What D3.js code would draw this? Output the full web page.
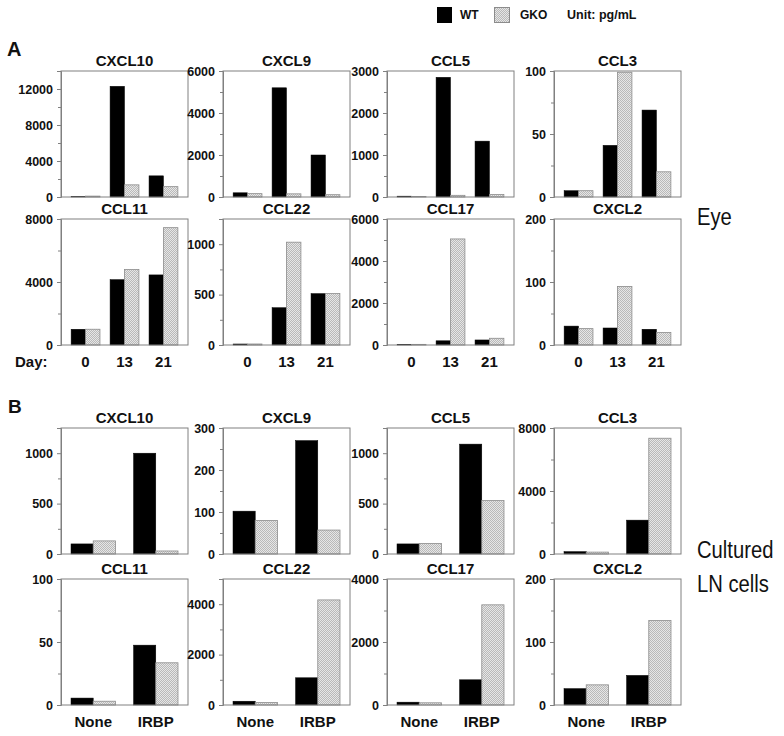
<!DOCTYPE html>
<html><head><meta charset="utf-8">
<script src="https://cdn.jsdelivr.net/npm/d3@7"></script>
<style>
body{margin:0;background:#fff;}
svg{display:block;font-family:"Liberation Sans",Arial,Helvetica,sans-serif;}
</style></head>
<body><svg id="c" width="784" height="736"></svg>
<script>
// ---------- DATA ----------
const seriesNames = ["WT", "GKO"];
const chemokines = ["CXCL10","CXCL9","CCL5","CCL3","CCL11","CCL22","CCL17","CXCL2"];

// Panel A: Eye, days 0/13/21
const daysA = ["0","13","21"];
const wtA  = [[50,12300,2350],[200,5200,2000],[20,2850,1330],[5,41,69],
              [1000,4150,4450],[10,370,510],[30,200,240],[30,27,25]];
const gkoA = [[100,1350,1150],[160,150,110],[10,40,60],[5,99,20],
              [1000,4800,7450],[10,1020,510],[30,5050,320],[26,93,20]];
const maxA   = [14000,6000,3000,100,8000,1250,6000,200];
const majorA = [4000,2000,1000,50,4000,500,2000,100];
const minorA = [2000,1000,500,25,2000,250,1000,50];

// Panel B: Cultured LN cells, None/IRBP
const stimB = ["None","IRBP"];
const wtB  = [[100,1000],[102,270],[100,1090],[150,2150],
              [5.5,47.5],[150,1080],[90,800],[26,47]];
const gkoB = [[130,30],[80,57],[105,530],[120,7350],
              [3,33.5],[100,4170],[70,3180],[32,134]];
const maxB   = [1250,300,1250,8000,100,5000,4000,200];
const majorB = [500,100,500,4000,50,2000,2000,100];
const minorB = [250,50,250,2000,25,1000,1000,50];

// ---------- DRAW ----------
const svg = d3.select("#c");
const defs = svg.append("defs");
const pat = defs.append("pattern").attr("id","hatch").attr("patternUnits","userSpaceOnUse")
  .attr("width",2).attr("height",2);
pat.append("rect").attr("width",2).attr("height",2).attr("fill","#e6e6e6");
pat.append("path").attr("d","M-0.5,0.5 l1,-1 M0,2 l2,-2 M1.5,2.5 l1,-1").attr("stroke","#9a9a9a").attr("stroke-width",0.6);

const colLeft = [61, 223, 387, 554];
const rowTop = [71, 219, 428, 579];
const W = 127, H = 126;
const frameCol = "#808080";

function panel(x0, y0, title, cats, wt, gko, maxV, major, minor, showX, pad) {
  const g = svg.append("g").attr("transform",`translate(${x0},${y0})`);
  const y = d3.scaleLinear().domain([0,maxV]).range([H,0]);
  const x = d3.scaleBand().domain(cats).range([0,W]).paddingInner(pad[0]).paddingOuter(pad[1]);
  const xs = d3.scaleBand().domain(seriesNames).range([0,x.bandwidth()]);
  cats.forEach((c,i)=>{
    [wt[i], gko[i]].forEach((v,k)=>{
      g.append("rect")
        .attr("x", x(c)+xs(seriesNames[k]))
        .attr("y", y(v))
        .attr("width", xs.bandwidth())
        .attr("height", H - y(v))
        .attr("fill", k===0 ? "#000" : "url(#hatch)")
        .attr("stroke", k===0 ? "#000" : "#8c8c8c")
        .attr("stroke-width", k===0 ? 0.5 : 0.8);
    });
  });
  g.append("rect").attr("x",0).attr("y",0).attr("width",W).attr("height",H)
    .attr("fill","none").attr("stroke",frameCol).attr("stroke-width",1);
  const minors = d3.range(0, maxV + 1e-9, minor).filter(v => Math.abs(v/major - Math.round(v/major)) > 1e-9);
  g.append("g").call(d3.axisLeft(y).tickValues(minors).tickSize(3).tickFormat(""))
    .call(a=>a.select(".domain").remove())
    .call(a=>a.selectAll("line").attr("stroke",frameCol));
  const majors = d3.range(0, maxV + 1e-9, major);
  g.append("g").call(d3.axisLeft(y).tickValues(majors).tickSize(4).tickPadding(4).tickFormat(d3.format("d")))
    .call(a=>a.select(".domain").attr("stroke",frameCol))
    .call(a=>a.selectAll("line").attr("stroke",frameCol))
    .call(a=>a.selectAll("text").attr("font-size",12.5).attr("font-weight","bold")
      .attr("font-family","'Liberation Sans',Arial,sans-serif").attr("fill","#111"));
  g.append("text").attr("x",W/2).attr("y",-5.5).attr("text-anchor","middle")
    .attr("font-size",15).attr("font-weight","bold").attr("fill","#111").text(title);
  if (showX) {
    const xa = g.append("g").attr("transform",`translate(0,${H})`)
      .call(d3.axisBottom(x).tickSize(0).tickPadding(0));
    xa.select(".domain").remove();
    xa.selectAll("text").attr("y",22).attr("dy",0).attr("font-size",15).attr("font-weight","bold")
      .attr("font-family","'Liberation Sans',Arial,sans-serif").attr("fill","#111");
  }
}

chemokines.forEach((name,i)=>{
  const r = Math.floor(i/4), c = i%4;
  panel(colLeft[c], rowTop[r], name, daysA, wtA[i], gkoA[i], maxA[i], majorA[i], minorA[i], r===1, [0.26,0.26]);
  panel(colLeft[c], rowTop[r+2], name, stimB, wtB[i], gkoB[i], maxB[i], majorB[i], minorB[i], r===1, [0.29,0.16]);
});

svg.append("text").attr("x",15).attr("y",rowTop[1]+H+22).attr("font-size",15).attr("font-weight","bold")
  .attr("fill","#111").text("Day:");

svg.append("text").attr("x",7).attr("y",56).attr("font-size",20).attr("font-weight","bold").attr("fill","#111").text("A");
svg.append("text").attr("x",8).attr("y",413).attr("font-size",19).attr("font-weight","bold").attr("fill","#111").text("B");

function side(txt, x, yb){
  svg.append("text").attr("transform",`translate(${x},${yb}) scale(0.92,1.09)`)
    .attr("font-size",22).attr("fill","#111").text(txt);
}
side("Eye", 697, 225);
side("Cultured", 697, 558);
side("LN cells", 697, 591.5);

const lg = svg.append("g");
lg.append("rect").attr("x",437).attr("y",7).attr("width",15).attr("height",16).attr("fill","#000");
lg.append("text").attr("x",460).attr("y",19).attr("font-size",12).attr("font-weight","bold").attr("fill","#111").text(seriesNames[0]);
lg.append("rect").attr("x",494.5).attr("y",7.5).attr("width",15).attr("height",15).attr("fill","url(#hatch)").attr("stroke","#8c8c8c");
lg.append("text").attr("x",520).attr("y",19).attr("font-size",12).attr("font-weight","bold").attr("fill","#111").text(seriesNames[1]);
lg.append("text").attr("x",567).attr("y",19).attr("font-size",12.5).attr("font-weight","bold").attr("fill","#111").text("Unit: pg/mL");
</script></body></html>
